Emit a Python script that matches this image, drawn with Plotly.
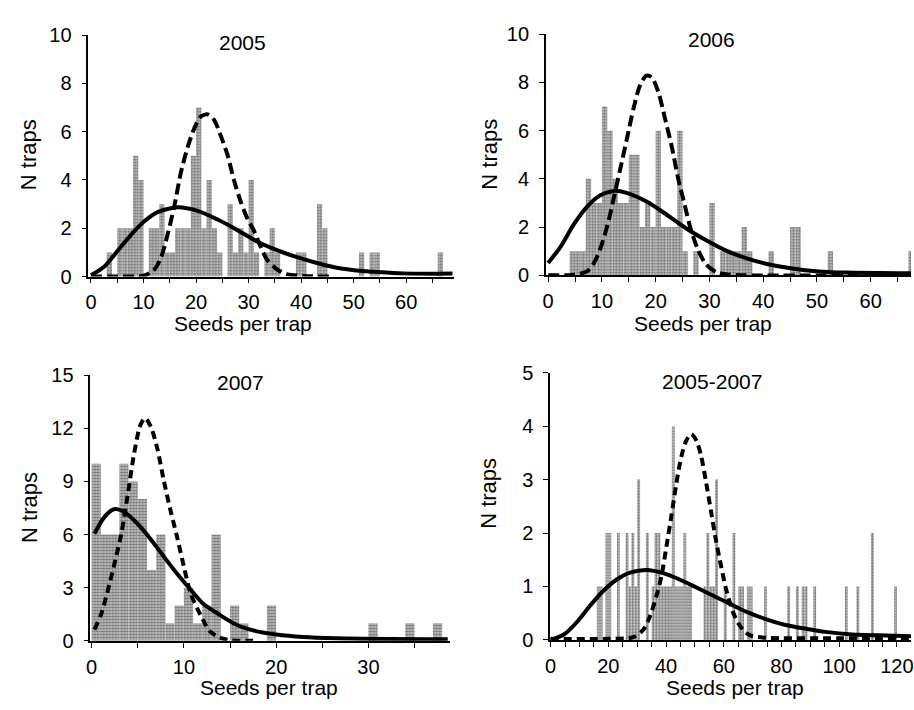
import plotly.graph_objects as go

FONT = "Liberation Sans, Arial, sans-serif"

# ---------------- data ----------------
# 2005
bins_2005 = [3, 5, 6, 7, 8, 9, 11, 12, 13, 14, 15, 16, 17, 18, 19, 20, 21, 22, 23, 24,
             26, 27, 28, 29, 30, 31, 33, 34, 35, 39, 40, 43, 44, 51, 53, 54, 66]
counts_2005 = [1, 2, 2, 2, 5, 4, 2, 2, 3, 1, 1, 2, 2, 2, 5, 7, 2, 4, 2, 1,
               3, 1, 2, 1, 4, 1, 1, 2, 1, 1, 1, 3, 2, 1, 1, 1, 1]
solid_x_2005 = [0, 2.6, 5.2, 7.7, 10.2, 12.7, 16.5, 20.3, 24.1, 27.9, 31.6, 35.4, 39.2, 43, 46.8, 50.5, 54.3, 59.4, 68.8]
solid_y_2005 = [0.05, 0.43, 1.1, 1.75, 2.3, 2.67, 2.87, 2.72, 2.36, 1.92, 1.45, 1.09, 0.8, 0.56, 0.36, 0.25, 0.19, 0.13, 0.12]
dash_x_2005 = [0, 6, 10, 12.1, 13.4, 14.6, 15.9, 17.1, 18.4, 19.7, 20.9, 22.2, 23.4, 24.7, 26, 27.2, 28.5, 29.7, 31, 32.3, 33.5, 35.4, 37.3, 40.5, 45.5]
dash_y_2005 = [0, 0, 0.03, 0.3, 0.83, 1.76, 2.96, 4.3, 5.36, 6.16, 6.63, 6.72, 6.5, 5.83, 5.03, 4.0, 3.1, 2.43, 1.9, 1.23, 0.7, 0.3, 0.1, 0.02, 0]

# 2006
bins_2006 = [4, 5, 6, 7, 8, 9, 10, 11, 12, 13, 14, 15, 16, 17, 18, 19, 20, 21, 22, 23, 24, 25,
             27, 30, 32, 33, 34, 35, 36, 37, 41, 45, 46, 52, 67]
counts_2006 = [1, 1, 1, 4, 3, 3, 7, 6, 4, 3, 3, 5, 5, 2, 3, 2, 6, 2, 2, 2, 6, 1,
               1, 3, 1, 1, 1, 1, 2, 1, 1, 2, 2, 1, 1]
solid_x_2006 = [0, 2.3, 4.8, 7.3, 9.7, 12.2, 14.6, 18.3, 22, 25.7, 29.4, 33.1, 36.8, 40.5, 45.4, 50.3, 55.3, 67.6]
solid_y_2006 = [0.51, 1.18, 2.12, 2.86, 3.32, 3.5, 3.42, 3.06, 2.52, 1.94, 1.45, 1.02, 0.71, 0.48, 0.28, 0.16, 0.11, 0.08]
dash_x_2006 = [0, 5, 7.3, 8.5, 9.7, 11, 12.2, 13.4, 14.6, 15.9, 17.1, 18.3, 19.3, 20.5, 21.7, 23, 24.2, 25.4, 26.6, 27.9, 29.4, 31.3, 33.1, 36.2, 67.5]
dash_y_2006 = [0, 0.02, 0.17, 0.5, 1.1, 2.05, 3.19, 4.4, 5.6, 6.94, 7.88, 8.28, 8.2, 7.6, 6.54, 5.33, 4.0, 2.92, 1.85, 1.05, 0.44, 0.13, 0.04, 0, 0]

# 2007
bins_2007 = [0, 1, 2, 3, 4, 5, 6, 7, 8, 9, 10, 11, 12, 13, 15, 16, 19, 30, 34, 37]
counts_2007 = [10, 6, 6, 10, 9, 8, 4, 6, 1, 2, 3, 1, 2, 6, 2, 1, 2, 1, 1, 1]
solid_x_2007 = [0.3, 1.4, 2.4, 3.5, 4.9, 6.4, 7.8, 9.2, 10.7, 12.1, 13.9, 15.7, 17.8, 20, 22.9, 26.5, 38.6]
solid_y_2007 = [6.05, 7.0, 7.43, 7.29, 6.65, 5.74, 4.77, 3.83, 2.91, 2.09, 1.46, 0.91, 0.55, 0.36, 0.22, 0.15, 0.09]
dash_x_2007 = [0.3, 1, 1.7, 2.4, 3.2, 3.9, 4.6, 5.3, 5.8, 6.4, 7.1, 7.8, 8.5, 9.2, 10, 10.7, 11.8, 12.8, 13.9, 15, 17.5]
dash_y_2007 = [0.64, 1.46, 2.73, 4.19, 6.0, 8.2, 10.56, 12.2, 12.57, 12.1, 10.9, 9.1, 7.47, 6.0, 4.19, 2.73, 1.46, 0.55, 0.18, 0.04, 0]

# 2005-2007
bins_all = [16, 17, 19, 20, 23, 26, 27, 28, 29, 30, 33, 35, 36, 37, 38, 39, 40, 41, 42, 43, 44, 45,
            46, 47, 48, 53, 54, 55, 56, 57, 60, 63, 65, 66, 68, 69, 74, 82, 85, 87, 88, 91, 102, 106, 111, 119]
counts_all = [1, 1, 2, 2, 2, 2, 1, 2, 1, 3, 2, 1, 2, 2, 1, 1, 1, 1, 4, 1, 1, 1,
              2, 1, 1, 1, 2, 1, 1, 3, 1, 2, 1, 1, 1, 1, 1, 1, 1, 1, 1, 1, 1, 1, 2, 1]
solid_x_all = [0, 4.6, 9.2, 13.8, 18.3, 22.9, 27.5, 33.3, 39, 44.7, 50.5, 56.2, 61.9, 67.7, 74.5, 81.4, 88.3, 95.2, 104.4, 113.5, 125]
solid_y_all = [0, 0.1, 0.34, 0.65, 0.92, 1.13, 1.26, 1.31, 1.25, 1.13, 0.98, 0.83, 0.68, 0.53, 0.39, 0.28, 0.21, 0.15, 0.10, 0.085, 0.07]
dash_x_all = [0, 20, 28.7, 32.1, 34.4, 36.7, 38.4, 40.1, 41.9, 43.6, 45.3, 47, 48.7, 50.5, 52.2, 53.9, 55.6, 57.3, 59.1, 60.8, 63.1, 65.4, 67.7, 70, 74.5, 100, 125]
dash_y_all = [0.02, 0.02, 0.05, 0.19, 0.44, 0.83, 1.19, 1.74, 2.34, 2.94, 3.43, 3.73, 3.85, 3.73, 3.43, 2.94, 2.4, 1.86, 1.37, 0.95, 0.53, 0.28, 0.13, 0.07, 0.04, 0.03, 0.03]

titles = ["2005", "2006", "2007", "2005-2007"]

panels = [
    dict(bins=bins_2005, counts=counts_2005, sx=solid_x_2005, sy=solid_y_2005, dx=dash_x_2005, dy=dash_y_2005,
         xr=[-0.5, 69], yr=[0, 10], xd=10, yd=2, xdom=[84/914, 452/914], ydom=[436/710, 685/710], dash="11px,5px"),
    dict(bins=bins_2006, counts=counts_2006, sx=solid_x_2006, sy=solid_y_2006, dx=dash_x_2006, dy=dash_y_2006,
         xr=[-0.43, 67.5], yr=[0, 10], xd=10, yd=2, xdom=[545/914, 913/914], ydom=[437.3/710, 686/710], dash="11px,5px"),
    dict(bins=bins_2007, counts=counts_2007, sx=solid_x_2007, sy=solid_y_2007, dx=dash_x_2007, dy=dash_y_2007,
         xr=[-0.14, 38.8], yr=[0, 15], xd=10, yd=3, xdom=[86/914, 448/914], ydom=[60/710, 334.3/710], dash="8px,5px"),
    dict(bins=bins_all, counts=counts_all, sx=solid_x_all, sy=solid_y_all, dx=dash_x_all, dy=dash_y_all,
         xr=[-0.2, 124.9], yr=[0, 5], xd=20, yd=1, xdom=[549.3/914, 913/914], ydom=[61/710, 336.7/710], dash="8px,5px"),
]

fig = go.Figure()
layout = dict(width=914, height=710, margin=dict(l=0, r=0, t=0, b=0),
              paper_bgcolor="white", plot_bgcolor="white", showlegend=False,
              font=dict(family=FONT, size=20, color="black"))

for i, p in enumerate(panels):
    n = "" if i == 0 else str(i + 1)
    xa, ya = "x" + n, "y" + n
    fig.add_trace(go.Bar(x=p["bins"], y=p["counts"], width=1, offset=0, xaxis=xa, yaxis=ya,
                         marker=dict(color="white", line=dict(width=0),
                                     pattern=dict(shape=".", fgcolor="#111111", bgcolor="#d4d4d4",
                                                  size=3, solidity=0.6))))
    fig.add_trace(go.Scatter(x=p["dx"], y=p["dy"], mode="lines", xaxis=xa, yaxis=ya,
                             line=dict(color="black", width=4, dash=p["dash"], shape="spline", smoothing=0.8)))
    fig.add_trace(go.Scatter(x=p["sx"], y=p["sy"], mode="lines", xaxis=xa, yaxis=ya,
                             line=dict(color="black", width=4, shape="spline", smoothing=0.8)))
    layout["xaxis" + n] = dict(domain=p["xdom"], range=p["xr"], anchor=ya, showgrid=False, zeroline=False,
                               showline=True, linecolor="black", linewidth=1.5,
                               tickmode="linear", tick0=0, dtick=p["xd"], ticks="outside", ticklen=5,
                               tickcolor="black", tickwidth=1.2, ticklabeloverflow="allow",
                               minor=dict(dtick=5, tick0=0, ticks="outside", ticklen=5, tickcolor="black", tickwidth=1.2),
                               tickfont=dict(family=FONT, size=20, color="black"), ticklabelstandoff=2)
    layout["yaxis" + n] = dict(domain=p["ydom"], range=p["yr"], anchor=xa, showgrid=False, zeroline=False,
                               showline=True, linecolor="black", linewidth=1.5,
                               tickmode="linear", tick0=0, dtick=p["yd"], ticks="outside", ticklen=5,
                               tickcolor="black", tickwidth=1.2,
                               tickfont=dict(family=FONT, size=20, color="black"), ticklabelstandoff=6)

fig.update_layout(**layout)

# panel titles and axis titles
title_pos = [(239, 32), (712, 29), (237, 383), (712, 382)]
xt_pos = [(240, 322), (703, 322), (266, 698), (736, 698)]
yt_pos = [(24, 148), (488, 148), (24, 512), (487, 498)]
for t, (tx, ty), (xx, xy), (yx, yy) in zip(titles, title_pos, xt_pos, yt_pos):
    fig.add_annotation(text=t, x=tx / 914, y=1 - ty / 710, xref="paper", yref="paper",
                       showarrow=False, font=dict(family=FONT, size=21, color="black"),
                       xanchor="center", yanchor="middle")
    fig.add_annotation(text="Seeds per trap", x=xx / 914, y=1 - xy / 710, xref="paper", yref="paper",
                       showarrow=False, font=dict(family=FONT, size=21, color="black"),
                       xanchor="center", yanchor="middle")
    fig.add_annotation(text="N traps", x=yx / 914, y=1 - yy / 710, xref="paper", yref="paper",
                       showarrow=False, textangle=-90, font=dict(family=FONT, size=22, color="black"),
                       xanchor="center", yanchor="middle")

fig.write_html("out.html")
